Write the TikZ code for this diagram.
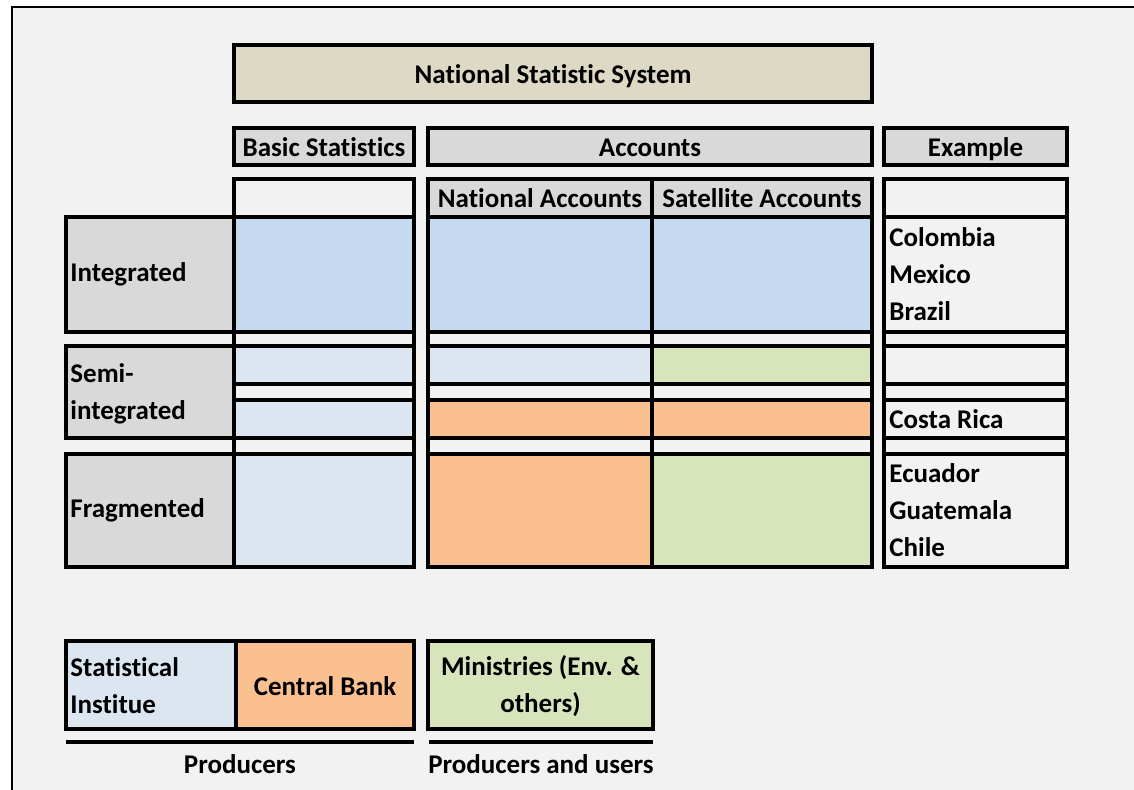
\documentclass[tikz,border=0pt]{standalone}
\usepackage{fontspec}
\setmainfont{Carlito}[Ligatures=NoCommon]

\definecolor{sheet}{HTML}{F2F2F2}
\definecolor{tanfill}{HTML}{DDD9C4}
\definecolor{headgrey}{HTML}{D9D9D9}
\definecolor{deepblue}{HTML}{C5D9F1}
\definecolor{paleblue}{HTML}{DCE6F1}
\definecolor{bankorange}{HTML}{FAC090}
\definecolor{mingreen}{HTML}{D8E4BC}

\begin{document}
\begin{tikzpicture}[x=0.5pt, y=-0.5pt,
  rule/.style={line width=2pt},
  gridrule/.style={line width=2pt, line cap=rect},
  txt/.style={font=\fontsize{13.5}{18.5}\selectfont\bfseries, inner sep=0pt},
  onetxt/.style={txt, text height=9.6pt, text depth=0pt},
  lefttxt/.style={txt, anchor=west, align=left}]
  \useasboundingbox (0,0) rectangle (1134,790);
  \fill[white] (0,0) rectangle (1134,790);
  \fill[sheet] (12,7) rectangle (1134,790);
  \draw[line width=1pt] (12,790) -- (12,7) -- (1134,7);

  % top title and column heads
  \draw[rule, fill=tanfill] (234,45) rectangle (872,102);
  \node[onetxt] (nss) at (553,73.5) {National Statistic System};
  \draw[rule, fill=headgrey] (234,128) rectangle (414,165);
  \node[onetxt] (basic) at (324,146.5) {Basic Statistics};
  \draw[rule, fill=headgrey] (428,128) rectangle (872,165);
  \node[onetxt] (accounts) at (650,146.5) {Accounts};
  \draw[rule, fill=headgrey] (884,128) rectangle (1067,165);
  \node[onetxt] (example) at (975.5,146.5) {Example};

  % cell fills
  \fill[deepblue] (234,217) rectangle (414,332);
  \fill[paleblue] (234,346) rectangle (414,384);
  \fill[paleblue] (234,400) rectangle (414,438);
  \fill[paleblue] (234,454) rectangle (414,567);
  \fill[headgrey] (428,179) rectangle (872,217);
  \fill[deepblue] (428,217) rectangle (872,332);
  \fill[paleblue] (428,346) rectangle (652,384);
  \fill[mingreen] (652,346) rectangle (872,384);
  \fill[bankorange] (428,400) rectangle (872,438);
  \fill[bankorange] (428,454) rectangle (652,567);
  \fill[mingreen] (652,454) rectangle (872,567);

  % grid
  \foreach \y in {179,217,332,346,384,400,438,454,567} {
    \draw[gridrule] (234,\y) -- (414,\y);
    \draw[gridrule] (428,\y) -- (872,\y);
    \draw[gridrule] (884,\y) -- (1067,\y);
  }
  \foreach \x in {234,414,428,652,872,884,1067}
    \draw[gridrule] (\x,179) -- (\x,567);

  \node[onetxt] (natacc) at (540,198) {National Accounts};
  \node[onetxt] (satacc) at (762,198) {Satellite Accounts};

  % row labels
  \draw[rule, fill=headgrey] (66,217) rectangle (234,332);
  \draw[rule, fill=headgrey] (66,346) rectangle (234,438);
  \draw[rule, fill=headgrey] (66,454) rectangle (234,567);
  \node[lefttxt] (integ) at (70,274.5) {Integrated};
  \node[lefttxt] (semi) at (70,394) {Semi-\\integrated};
  \node[lefttxt] (frag) at (70,510.5) {Fragmented};

  % countries
  \node[lefttxt] (integex) at (889,274.5) {Colombia\\Mexico\\Brazil};
  \node[lefttxt] (semiex) at (889,419) {Costa Rica};
  \node[lefttxt] (fragex) at (889,510.5) {Ecuador\\Guatemala\\Chile};

  % legend
  \draw[rule, fill=paleblue] (66,641) rectangle (236,729);
  \draw[rule, fill=bankorange] (236,641) rectangle (414,729);
  \draw[rule, fill=mingreen] (428,641) rectangle (653,729);
  \node[lefttxt] (statinst) at (70,686) {Statistical\\Institue};
  \node[onetxt] (cbank) at (325,686) {Central Bank};
  \node[txt, align=center] (minist) at (540.5,686) {Ministries (Env. \&\\others)};
  \draw[rule] (66,742) -- (414,742);
  \draw[rule] (429,742) -- (653,742);
  \node[onetxt] (prod) at (240,764) {Producers};
  \node[onetxt] (produse) at (541,764) {Producers and users};
\end{tikzpicture}
\end{document}
